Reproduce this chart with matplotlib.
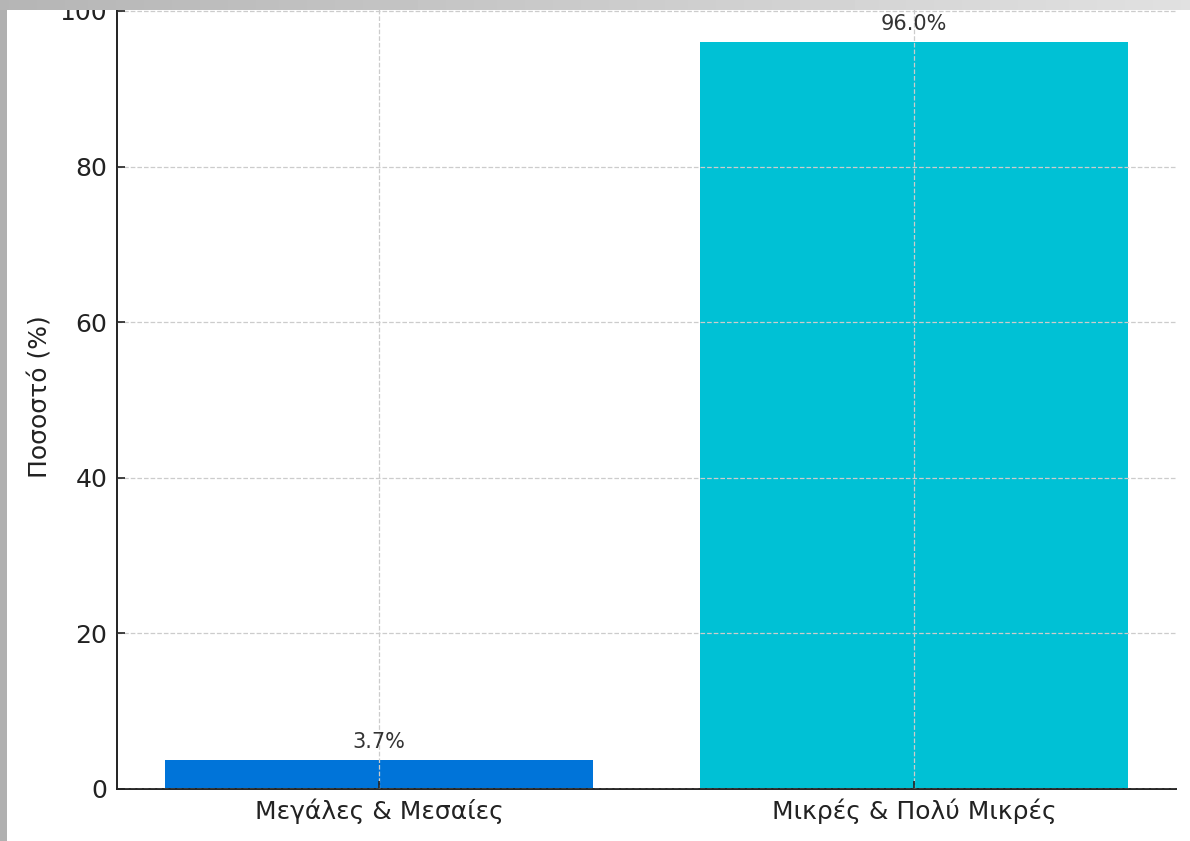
import matplotlib.pyplot as plt
import numpy as np
from matplotlib.patches import Rectangle

# datos
categorias = ["Μεγάλες & Μεσαίες", "Μικρές & Πολύ Μικρές"]
valores = [3.7, 96.0]
colores = ["#0074D9", "#00C1D5"]
yticks = [0, 20, 40, 60, 80, 100]

plt.rcParams['font.family'] = ['DejaVu Sans']

W, H = 1190, 841
fig = plt.figure(figsize=(W/100, H/100), dpi=100)
fig.patch.set_facecolor("white")

# ejes: 0 en y=789 px, 100 en y=11 px (techo 100.8 por el margen)
px_por_unidad = (789 - 11) / 100
alto = 100.8 * px_por_unidad
ax = fig.add_axes([117/W, 52/H, (1176-117)/W, alto/H])

x = np.arange(len(categorias))
ax.bar(x, valores, width=0.8, color=colores, zorder=1)
ax.set_xticks(x)
ax.set_xticklabels(categorias)
ax.set_yticks(yticks)
ax.set_ylim(0, max(valores)*1.05)

for xi, v in zip(x, valores):
    ax.annotate(f"{v:.1f}%", (xi, v), xytext=(0, 6), textcoords="offset points",
                ha="center", va="bottom", fontsize=15, color="#333333")

ax.grid(True, linestyle="--", color="#cccccc", linewidth=0.9, zorder=3)
ax.set_axisbelow(False)
ax.spines["top"].set_visible(False)
ax.spines["right"].set_visible(False)
for lado in ["left", "bottom"]:
    ax.spines[lado].set_linewidth(1.4)
    ax.spines[lado].set_color("#222222")
ax.tick_params(direction="in", length=6, width=1.2, color="#222222",
               labelsize=18, labelcolor="#222222", pad=7)
ax.set_ylabel("Ποσοστό (%)", fontsize=18, color="#222222", labelpad=5)

# bordes grises de la captura
grad = np.linspace(0.71, 0.88, 256).reshape(1, -1)
tira = fig.add_axes([0, 1 - 10/H, 1, 10/H], zorder=10)
tira.imshow(grad, cmap="gray", vmin=0, vmax=1, aspect="auto")
tira.axis("off")
fig.patches.append(Rectangle((0, 0), 7/W, 1 - 10/H, transform=fig.transFigure,
                             facecolor="#b0b0b0", edgecolor="none", zorder=10))

fig.savefig("out.png", dpi=100)
